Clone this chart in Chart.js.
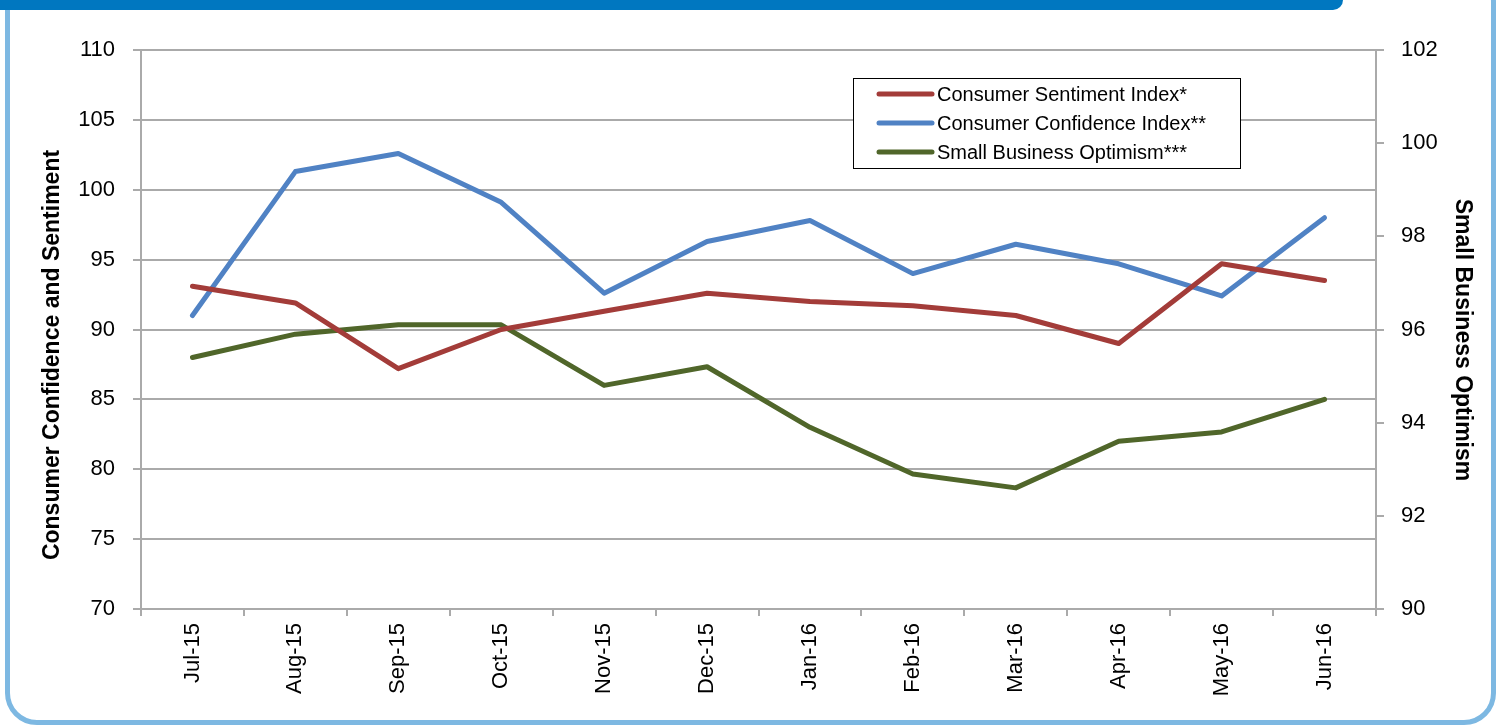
<!DOCTYPE html>
<html>
<head>
<meta charset="utf-8">
<script src="https://cdn.jsdelivr.net/npm/chart.js@4.4.1/dist/chart.umd.min.js"></script>
<style>
  html, body { margin: 0; padding: 0; background: #fff; overflow: hidden; }
  #wrap { position: relative; width: 1501px; height: 725px; }
  #frame {
    position: absolute; left: 5px; top: -30px; width: 1481px; height: 745px;
    border: 5px solid #7db8e2; border-radius: 32px; box-sizing: content-box;
  }
  #band {
    position: absolute; left: 0; top: 0; width: 1343px; height: 10px;
    background: #0077c0; border-bottom-right-radius: 12px;
  }
  canvas { position: absolute; left: 0; top: 0; }
</style>
</head>
<body>
<div id="wrap">
  <div id="frame"></div>
  <div id="band"></div>
  <canvas id="grafico" width="1501" height="725"></canvas>
</div>
<script>
const meses = ['Jul-15', 'Aug-15', 'Sep-15', 'Oct-15', 'Nov-15', 'Dec-15',
               'Jan-16', 'Feb-16', 'Mar-16', 'Apr-16', 'May-16', 'Jun-16'];
const sentimento = [93.1, 91.9, 87.2, 90.0, 91.3, 92.6, 92.0, 91.7, 91.0, 89.0, 94.7, 93.5];
const confianca = [91.0, 101.3, 102.6, 99.1, 92.6, 96.3, 97.8, 94.0, 96.1, 94.7, 92.4, 98.0];
const otimismo = [95.4, 95.9, 96.1, 96.1, 94.8, 95.2, 93.9, 92.9, 92.6, 93.6, 93.8, 94.5];

const fonte = 'Liberation Sans, Arial, sans-serif';
const cinza = '#aaaaaa';

// legenda desenhada dentro da area do grafico, com borda preta
const legendaBox = {
  id: 'legendaBox',
  afterDraw(chart) {
    const ctx = chart.ctx;
    const x = 853, y = 78, w = 387, h = 90;
    ctx.save();
    ctx.fillStyle = '#fff';
    ctx.fillRect(x, y, w, h);
    ctx.strokeStyle = '#000';
    ctx.lineWidth = 1;
    ctx.strokeRect(x + 0.5, y + 0.5, w, h);
    ctx.font = '20px ' + fonte;
    ctx.textBaseline = 'middle';
    chart.data.datasets.forEach((ds, i) => {
      const cy = y + 16 + i * 29;
      ctx.strokeStyle = ds.borderColor;
      ctx.lineWidth = 5;
      ctx.lineCap = 'round';
      ctx.beginPath();
      ctx.moveTo(x + 26, cy);
      ctx.lineTo(x + 79, cy);
      ctx.stroke();
      ctx.fillStyle = '#000';
      ctx.fillText(ds.label, x + 84, cy + 1);
    });
    ctx.restore();
  }
};

// titulos dos eixos verticais
const titulosEixos = {
  id: 'titulosEixos',
  afterDraw(chart) {
    const ctx = chart.ctx;
    ctx.save();
    ctx.font = 'bold 23px ' + fonte;
    ctx.fillStyle = '#000';
    ctx.textAlign = 'center';
    ctx.textBaseline = 'middle';
    ctx.translate(53, 355);
    ctx.rotate(-Math.PI / 2);
    ctx.fillText('Consumer Confidence and Sentiment', 0, 0);
    ctx.restore();
    ctx.save();
    ctx.font = 'bold 23px ' + fonte;
    ctx.fillStyle = '#000';
    ctx.textAlign = 'center';
    ctx.textBaseline = 'middle';
    ctx.translate(1462, 340);
    ctx.rotate(Math.PI / 2);
    ctx.fillText('Small Business Optimism', 0, 0);
    ctx.restore();
  }
};

const ctx = document.getElementById('grafico');

new Chart(ctx, {
  type: 'line',
  data: {
    labels: meses,
    datasets: [
      {
        label: 'Consumer Sentiment Index*',
        data: sentimento,
        borderColor: 'rgb(163, 60, 57)',
        yAxisID: 'y'
      },
      {
        label: 'Consumer Confidence Index**',
        data: confianca,
        borderColor: 'rgb(80, 130, 196)',
        yAxisID: 'y'
      },
      {
        label: 'Small Business Optimism***',
        data: otimismo,
        borderColor: 'rgb(80, 102, 42)',
        yAxisID: 'y1'
      }
    ]
  },
  options: {
    responsive: false,
    animation: false,
    devicePixelRatio: 1,
    elements: {
      line: { borderWidth: 5, tension: 0, borderCapStyle: 'round', borderJoinStyle: 'round' },
      point: { radius: 0, hoverRadius: 0 }
    },
    layout: {
      padding: { top: 50, left: 0, right: 0, bottom: 0 }
    },
    plugins: {
      legend: { display: false },
      tooltip: { enabled: false }
    },
    scales: {
      x: {
        offset: true,
        afterFit: (s) => { s.height = 116; },
        grid: {
          offset: true,
          drawOnChartArea: false,
          color: cinza,
          lineWidth: 2,
          tickLength: 7
        },
        border: { color: cinza, width: 2 },
        ticks: {
          minRotation: 90,
          maxRotation: 90,
          padding: 7,
          color: '#000',
          font: { family: fonte, size: 22 }
        }
      },
      y: {
        position: 'left',
        min: 70,
        max: 110,
        afterFit: (s) => { s.width = 141; },
        grid: { color: cinza, lineWidth: 2, tickLength: 8 },
        border: { color: cinza, width: 2 },
        ticks: {
          stepSize: 5,
          padding: 18,
          color: '#000',
          font: { family: fonte, size: 22 }
        }
      },
      y1: {
        position: 'right',
        min: 90,
        max: 102,
        afterFit: (s) => { s.width = 125; },
        grid: { drawOnChartArea: false, color: cinza, lineWidth: 2, tickLength: 8 },
        border: { color: cinza, width: 2 },
        ticks: {
          stepSize: 2,
          padding: 17,
          color: '#000',
          font: { family: fonte, size: 22 }
        }
      }
    }
  },
  plugins: [legendaBox, titulosEixos]
});
</script>
</body>
</html>
